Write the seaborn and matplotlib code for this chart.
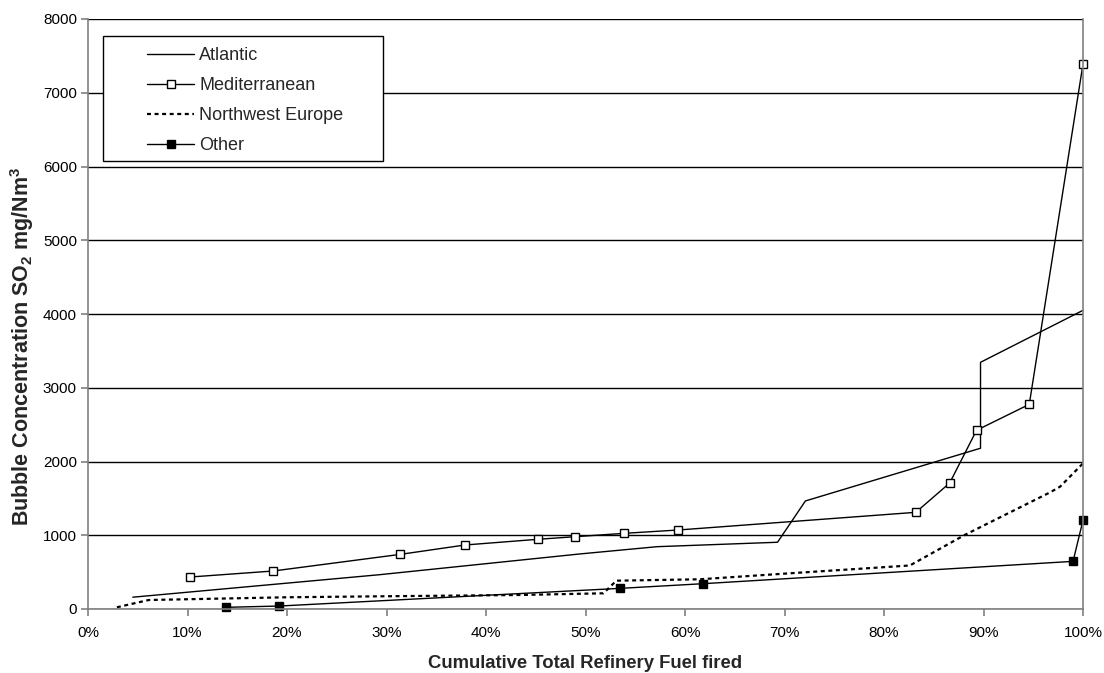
import matplotlib
matplotlib.use("Agg")
import matplotlib.pyplot as plt
import matplotlib.patches as mpatches
from matplotlib.ticker import PercentFormatter, MultipleLocator
import seaborn as sns

# Cumulative share of refinery fuel fired (%) vs bubble SO2 concentration (mg/Nm3)
atlantic_x = [4.5, 29.3, 49.4, 57.2, 69.3, 72.1, 89.7, 89.7, 100.0]
atlantic_y = [160, 465, 746, 845, 905, 1465, 2180, 3345, 4050]

med_x = [10.3, 18.6, 31.4, 37.9, 45.2, 48.9, 53.9, 59.3, 83.2, 86.6, 89.3, 94.6, 100.0]
med_y = [434, 515, 741, 868, 945, 980, 1026, 1071, 1311, 1708, 2423, 2775, 7390]

nwe_x = [2.9, 6.1, 20.0, 29.3, 43.4, 51.8, 53.1, 61.5, 69.5, 82.6, 88.1, 96.7, 97.7, 100.0]
nwe_y = [23, 122, 159, 172, 190, 213, 384, 403, 475, 590, 1003, 1582, 1659, 1975]

other_x = [13.9, 19.2, 53.5, 61.8, 99.0, 100.0]
other_y = [23, 40, 280, 343, 646, 1203]

series_names = ["Atlantic", "Mediterranean", "Northwest Europe", "Other"]
y_ticks = list(range(0, 8001, 1000))

sns.set_style("ticks")
plt.rcParams["font.family"] = ["Liberation Sans", "DejaVu Sans"]
plt.rcParams["mathtext.fontset"] = "custom"
plt.rcParams["mathtext.rm"] = "Liberation Sans"
plt.rcParams["mathtext.bf"] = "Liberation Sans:bold"

fig = plt.figure(figsize=(11.04, 6.73), dpi=100)
ax = fig.add_axes([88 / 1104, 1 - 609 / 673, 995 / 1104, 590 / 673])

lw = 1.0
sns.lineplot(x=atlantic_x, y=atlantic_y, ax=ax, color="black", lw=lw,
             estimator=None, sort=False, label=series_names[0], clip_on=False)
sns.lineplot(x=med_x, y=med_y, ax=ax, color="black", lw=lw,
             estimator=None, sort=False, marker="s", markersize=5.5,
             mfc="white", mec="black", mew=1.0, label=series_names[1],
             clip_on=False)
sns.lineplot(x=nwe_x, y=nwe_y, ax=ax, color="black", lw=1.6,
             linestyle=(0, (1.8, 1.6)), estimator=None, sort=False,
             label=series_names[2], clip_on=False)
sns.lineplot(x=other_x, y=other_y, ax=ax, color="black", lw=lw,
             estimator=None, sort=False, marker="s", markersize=6,
             mfc="black", mec="black", mew=1.0, label=series_names[3],
             clip_on=False)

ax.set_xlim(0, 100)
ax.set_ylim(0, 8000)
ax.xaxis.set_major_locator(MultipleLocator(10))
ax.xaxis.set_major_formatter(PercentFormatter(xmax=100, decimals=0))
ax.set_yticks(y_ticks)

ax.yaxis.grid(True, color="black", lw=1.0)
ax.xaxis.grid(False)
ax.set_axisbelow(True)

for side in ("left", "right", "bottom"):
    ax.spines[side].set_color("#808080")
    ax.spines[side].set_linewidth(1.2)
ax.spines["top"].set_visible(False)

ax.tick_params(axis="both", direction="out", length=5, width=1.2,
               color="#808080", labelsize=11, labelcolor="black")
ax.tick_params(axis="x", pad=7)
ax.tick_params(axis="y", pad=3)

ax.set_xlabel("Cumulative Total Refinery Fuel fired", fontsize=13.3,
              fontweight="bold", labelpad=11)
ax.set_ylabel(r"Bubble Concentration SO$_{\mathbf{2}}$ mg/Nm$^{\mathbf{3}}$",
              fontsize=15.5, fontweight="bold")
ax.yaxis.set_label_coords(-0.052, 0.446)

# Legend box with a white background covering the grid
box = mpatches.Rectangle((0.0151, 0.759), 0.2814, 0.212, transform=ax.transAxes,
                         facecolor="white", edgecolor="black", lw=1.0,
                         zorder=4, clip_on=False)
ax.add_patch(box)
leg = ax.legend(loc="upper left", bbox_to_anchor=(0.0503, 0.967), frameon=False,
                fontsize=13, borderpad=0, handlelength=2.6, handletextpad=0.3,
                labelspacing=0.72)
leg.set_zorder(5)

fig.savefig("out.png", dpi=100)
